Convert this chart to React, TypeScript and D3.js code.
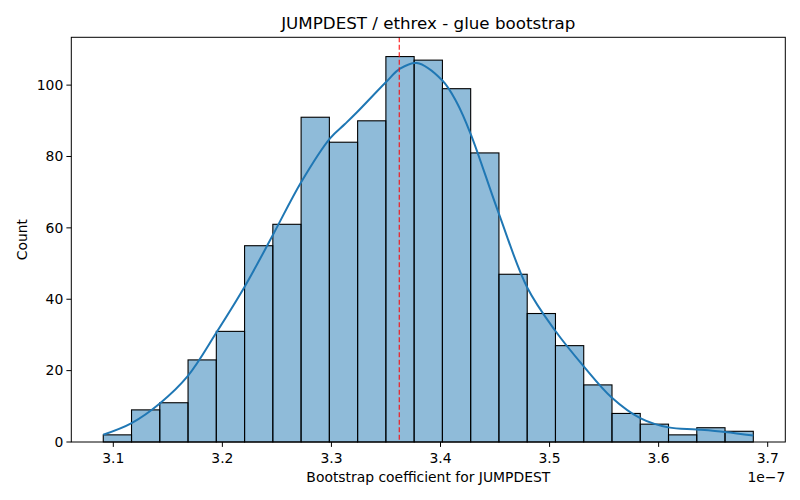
import React from "react";
import * as d3 from "d3";

// Histogram data (x in units of 1e-7)
const binStart = 3.0908;
const binWidth = 0.025913;
const counts = [2, 9, 11, 23, 31, 55, 61, 91, 84, 90, 108, 107, 99, 81, 47, 36, 27, 16, 8, 5, 2, 4, 3];

// KDE curve
const kdeX = [3.0908, 3.1168, 3.1426, 3.1686, 3.1944, 3.2204, 3.2463, 3.2722, 3.2987, 3.3124, 3.3234, 3.3499, 3.3629, 3.3782, 3.4017, 3.4148, 3.4277, 3.4535, 3.4795, 3.5054, 3.5313, 3.5572, 3.5831, 3.609, 3.635, 3.6608, 3.6868];
const kdeY = [2.05, 5.3, 10.8, 18.6, 30.6, 43.5, 58.0, 72.8, 85.1, 89.1, 92.4, 100.8, 104.6, 106.2, 101.3, 95.2, 86.3, 64, 43.3, 31.1, 21.2, 12.4, 6.7, 4.1, 3.5, 2.8, 1.8];

const refLine = 3.3622;
const xTicks = [3.1, 3.2, 3.3, 3.4, 3.5, 3.6, 3.7];
const yTicks = [0, 20, 40, 60, 80, 100];

const title = "JUMPDEST / ethrex - glue bootstrap";
const xLabel = "Bootstrap coefficient for JUMPDEST";
const yLabel = "Count";
const offsetText = "1e\u22127";

export default function App() {
  const W = 800, H = 500;
  const m = { left: 71.3, right: 785.3, top: 37.3, bottom: 442 };
  const x = d3.scaleLinear().domain([3.1, 3.7]).range([113.3, 767.7]);
  const y = d3.scaleLinear().domain([0, 113.4]).range([m.bottom, m.top]);
  const font = "'DejaVu Sans', sans-serif";

  const line = d3
    .line<number>()
    .x((_, i) => x(kdeX[i]))
    .y((d) => y(d))
    .curve(d3.curveCatmullRom.alpha(0.5));

  return (
    <svg width={W} height={H} style={{ position: "absolute", left: 0, top: 0, background: "#fff" }} fontFamily={font}>
      <rect x={0} y={0} width={W} height={H} fill="#fff" />
      {counts.map((c, i) => {
        const x0 = x(binStart + i * binWidth);
        const x1 = x(binStart + (i + 1) * binWidth);
        return (
          <rect
            key={i}
            x={x0}
            y={y(c)}
            width={x1 - x0}
            height={y(0) - y(c)}
            fill="rgba(31,119,180,0.5)"
            stroke="#000"
            strokeWidth={1.1}
          />
        );
      })}
      <path d={line(kdeY) || ""} fill="none" stroke="#1f77b4" strokeWidth={2} />
      <line
        x1={x(refLine)}
        x2={x(refLine)}
        y1={m.top}
        y2={m.bottom}
        stroke="#ff0000"
        strokeOpacity={0.85}
        strokeWidth={1.2}
        strokeDasharray="5,2.5"
      />
      {/* axes frame */}
      <rect x={m.left} y={m.top} width={m.right - m.left} height={m.bottom - m.top} fill="none" stroke="#000" strokeWidth={1} />
      {xTicks.map((t) => (
        <g key={t}>
          <line x1={x(t)} x2={x(t)} y1={m.bottom} y2={m.bottom + 4.9} stroke="#000" strokeWidth={1} />
          <text x={x(t)} y={m.bottom + 21} textAnchor="middle" fontSize={13.9} fill="#000">
            {t.toFixed(1)}
          </text>
        </g>
      ))}
      {yTicks.map((t) => (
        <g key={t}>
          <line x1={m.left - 4.9} x2={m.left} y1={y(t)} y2={y(t)} stroke="#000" strokeWidth={1} />
          <text x={m.left - 8} y={y(t)} dy="0.35em" textAnchor="end" fontSize={13.9} fill="#000">
            {t}
          </text>
        </g>
      ))}
      <text x={m.right} y={482} textAnchor="end" fontSize={13.9} fill="#000">
        {offsetText}
      </text>
      <text x={(m.left + m.right) / 2} y={482} textAnchor="middle" fontSize={13.9} fill="#000">
        {xLabel}
      </text>
      <text
        transform={`translate(27,${(m.top + m.bottom) / 2}) rotate(-90)`}
        textAnchor="middle"
        fontSize={13.9}
        fill="#000"
      >
        {yLabel}
      </text>
      <text x={(m.left + m.right) / 2} y={29} textAnchor="middle" fontSize={16.7} fill="#000">
        {title}
      </text>
    </svg>
  );
}
